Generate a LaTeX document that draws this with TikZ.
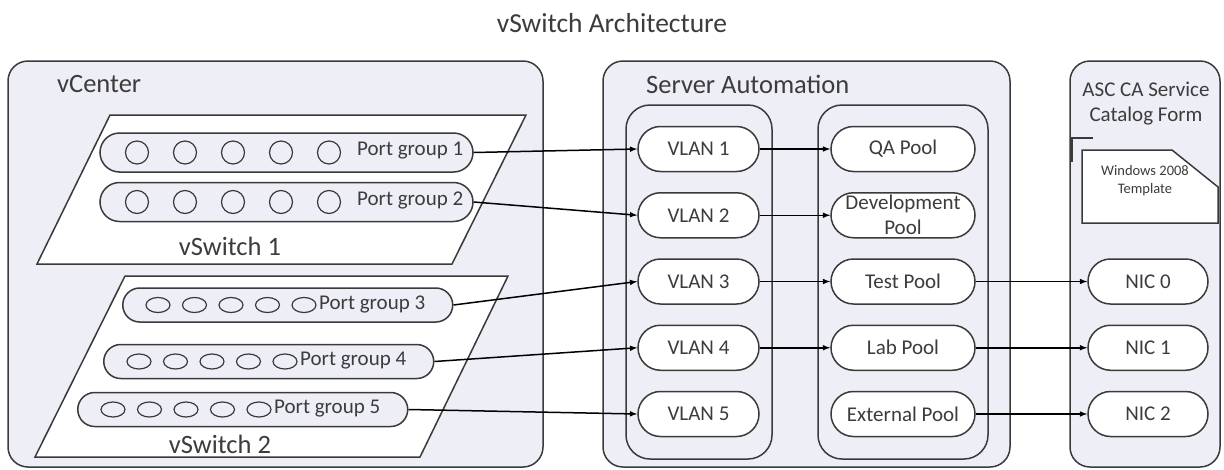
\documentclass[tikz,border=0pt]{standalone}
\usepackage{fontspec}
\setmainfont{Carlito}
\usetikzlibrary{shapes.misc,shapes.geometric}

\definecolor{panelfill}{RGB}{238,238,247}
\definecolor{edge}{RGB}{58,58,58}
\definecolor{ink}{RGB}{60,60,60}

\tikzstyle{panel}=[draw=edge,fill=panelfill,line width=1.5pt,rounded corners=20pt,inner sep=0pt]
\tikzstyle{column}=[draw=edge,fill=panelfill,line width=1.5pt,rounded corners=24pt,inner sep=0pt]
\tikzstyle{switchplane}=[draw=edge,fill=white,line width=1.5pt]
\tikzstyle{pill}=[draw=edge,fill=white,rounded rectangle,line width=1.5pt,minimum height=45pt,inner sep=0pt,align=center,text=ink,font=\fontsize{21}{25}\selectfont]
\tikzstyle{portgroup}=[draw=edge,fill=panelfill,rounded rectangle,line width=1.5pt,inner sep=0pt]
\tikzstyle{port}=[draw=edge,circle,line width=1.2pt,minimum size=23pt,inner sep=0pt]
\tikzstyle{smallport}=[draw=edge,ellipse,line width=1.2pt,minimum width=24pt,minimum height=15pt,inner sep=0pt]
\tikzstyle{pglabel}=[inner sep=0pt,text=ink,font=\fontsize{21}{25}\selectfont]
\tikzstyle{hdr}=[inner sep=0pt,text=ink,font=\fontsize{26.5}{30}\selectfont]
\tikzstyle{conn}=[line width=1.5pt,black]

\begin{document}
\begin{tikzpicture}[x=1pt,y=-1pt]
	\useasboundingbox (0,0) rectangle (1224,469);
	\node[hdr,font=\fontsize{27.5}{32}\selectfont,anchor=base] (title) at (612,32) {vSwitch Architecture};

	% outer panels
	\node[panel,minimum width=535pt,minimum height=406pt] (vcenter) at (275.5,264) {};
	\node[panel,minimum width=407pt,minimum height=406pt] (sa) at (806.5,264) {};
	\node[panel,minimum width=150pt,minimum height=406pt] (asc) at (1145,264) {};
	\node[hdr,anchor=west] (vcentertxt) at (57,84) {vCenter};
	\node[hdr,anchor=west] (satxt) at (646,84) {Server Automation};
	\node[pglabel,align=center] (asctxt) at (1146,104) {ASC CA Service\\Catalog Form};
	\draw[edge,line width=1.5pt] (1070,138) -- (1093,138);
	\draw[edge,line width=2pt] (1072,138) -- (1072,162);

	% vswitches
	\draw[switchplane] (110,115) -- (526,115) -- (452,264) -- (37,264) -- cycle;
	\draw[switchplane] (125,276) -- (508,276) -- (420,457) -- (35,457) -- cycle;
	\node[hdr] (sw1) at (230,246) {vSwitch 1};
	\node[hdr] (sw2) at (220,444) {vSwitch 2};

	\foreach \nr/\y in {1/152.5,2/202}{
		\node[portgroup,minimum width=373pt,minimum height=39pt] (PG\nr) at (286.5,\y) {};
		\foreach \k in {0,...,4}
			\node[port] (P\nr\k) at ({137+48*\k},\y) {};
		\node[pglabel,anchor=west] (PGT\nr) at (357,{\y-2}) {Port group \nr};
	}
	\foreach \nr/\l/\y in {3/122/305,4/103/361.5,5/77/409.5}{
		\node[portgroup,minimum width=330pt,minimum height=34pt,anchor=west] (PG\nr) at (\l,\y) {};
		\foreach \k in {0,...,4}
			\node[smallport] (P\nr\k) at ({\l+36+36.5*\k},\y) {};
		\node[pglabel,anchor=west] (PGT\nr) at ({\l+197},{\y-1}) {Port group \nr};
	}

	% server automation
	\node[column,minimum width=146pt,minimum height=354pt] (vlancol) at (699,282) {};
	\node[column,minimum width=170pt,minimum height=354pt] (poolcol) at (903,282) {};
	\foreach \nr/\pool in {1/QA Pool,2/Development\\Pool,3/Test Pool,4/Lab Pool,5/External Pool}{
		\node[pill,minimum width=121pt] (VLAN\nr) at (698.5,{149+66.25*(\nr-1)}) {VLAN \nr};
		\node[pill,minimum width=144pt] (Pool\nr) at (903,{149+66.25*(\nr-1)}) {\pool};
	}

	% catalog form
	\draw[switchplane] (1082,150) -- (1172,150) -- (1218,187) -- (1218,223) -- (1082,223) -- cycle;
	\node[inner sep=0pt,align=center,text=ink,font=\fontsize{14.5}{18}\selectfont] (tmpl) at (1145,181) {Windows 2008\\Template};
	\foreach \nr/\t in {0/3,1/4,2/5}
		\node[pill,minimum width=120pt] (NIC\nr) at (1148,{149+66.25*(\t-1)}) {NIC \nr};

	\begin{scope}[>=latex] %filled tips
		\foreach \nr in {1,...,5}
			\draw[->,conn] (PG\nr.east) -- (VLAN\nr.west);
		\foreach \nr in {1,...,4}
			\draw[->,conn] (VLAN\nr.east) -- (Pool\nr.west);
		\foreach \nr/\t in {0/3,1/4,2/5}
			\draw[->,conn] (Pool\t.east) -- (NIC\nr.west);
	\end{scope}
\end{tikzpicture}
\end{document}
